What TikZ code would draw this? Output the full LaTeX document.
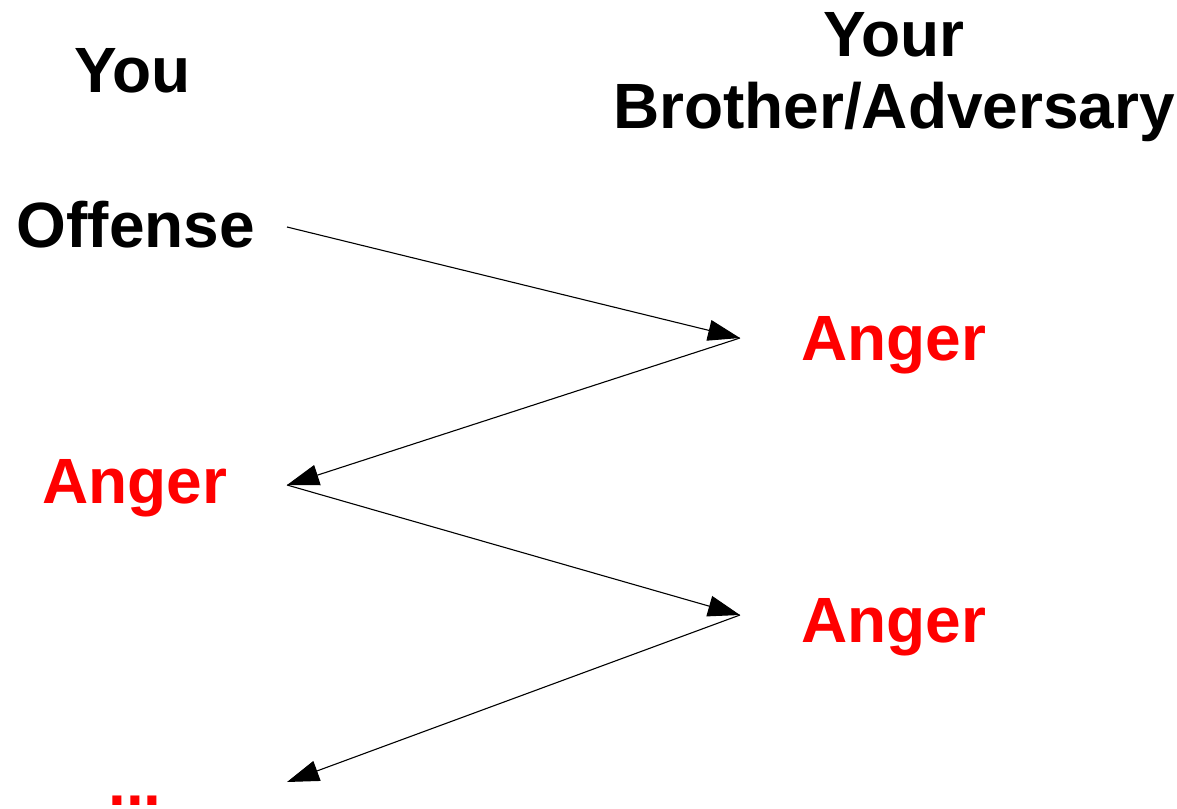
\documentclass[tikz,border=0pt]{standalone}
\usepackage{fontspec}
\setmainfont{Liberation Sans}
\usetikzlibrary{arrows.meta}
\begin{document}
\begin{tikzpicture}[x=0.5pt,y=-0.5pt,
  lbl/.style={anchor=base,inner sep=0pt,font=\fontsize{32}{38}\selectfont\bfseries},
  hot/.style={lbl,text={rgb,255:red,255;green,0;blue,0}},
  conn/.style={line width=0.55pt,-{Triangle[length=16pt,width=10.5pt]}}]
\useasboundingbox (0,0) rectangle (1177,808);
\node[lbl] (you) at (133,93) {You};
\node[lbl] (your) at (894,57) {Your};
\node[lbl] (brother) at (894,128) {Brother/Adversary};
\node[lbl] (offense) at (136,247) {Offense};
\node[hot] (angerR1) at (894,360) {Anger};
\node[hot] (angerL) at (135,503) {Anger};
\node[hot] (angerR2) at (894,642) {Anger};
\node[hot] (dots) at (135,805) {...};
\coordinate (p0) at (287,227);
\coordinate (p1) at (740,338);
\coordinate (p2) at (287,485);
\coordinate (p3) at (740,615);
\coordinate (p4) at (287,782);
\draw[conn] (p0) -- (p1);
\draw[conn] (p1) -- (p2);
\draw[conn] (p2) -- (p3);
\draw[conn] (p3) -- (p4);
\end{tikzpicture}
\end{document}
